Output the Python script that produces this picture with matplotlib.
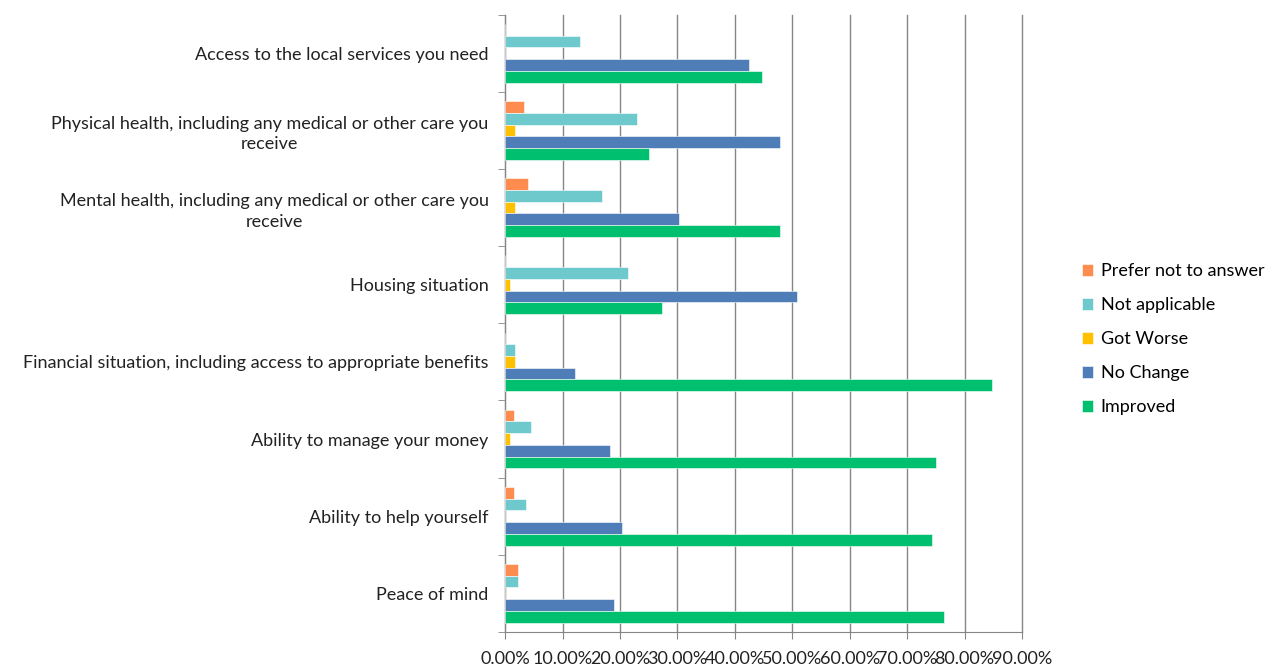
import numpy as np
import matplotlib.pyplot as plt
from matplotlib.ticker import FuncFormatter

plt.rcParams['font.family'] = ['Lato', 'DejaVu Sans']

# categories, top to bottom as shown
categories = ["Access to the local services you need",
              "Physical health, including any medical or other care you\nreceive",
              "Mental health, including any medical or other care you\nreceive",
              "Housing situation",
              "Financial situation, including access to appropriate benefits",
              "Ability to manage your money",
              "Ability to help yourself",
              "Peace of mind"]

prefer = [0.0, 0.032, 0.039, 0.0, 0.0, 0.015, 0.015, 0.022]
not_applicable = [0.130, 0.229, 0.168, 0.214, 0.017, 0.045, 0.037, 0.022]
got_worse = [0.0, 0.017, 0.017, 0.009, 0.017, 0.008, 0.0, 0.0]
no_change = [0.425, 0.478, 0.303, 0.509, 0.122, 0.182, 0.204, 0.189]
improved = [0.448, 0.251, 0.478, 0.273, 0.848, 0.750, 0.744, 0.765]

series = [("Prefer not to answer", prefer, "#FF8C4F"),
          ("Not applicable", not_applicable, "#6DC9CC"),
          ("Got Worse", got_worse, "#FFC000"),
          ("No Change", no_change, "#4F7DB7"),
          ("Improved", improved, "#00BF6F")]

fig = plt.figure(figsize=(12.79, 6.68), dpi=100)
ax = fig.add_axes([0.395, 0.054, 0.404, 0.924])

n = len(categories)
ypos = np.arange(n)  # 0 at top
bh = 0.152
for i, (name, vals, col) in enumerate(series):
    off = (i - 2) * bh
    ax.barh(ypos + off, vals, height=bh, color=col, edgecolor='white',
            linewidth=0.4, label=name, zorder=3)

ax.set_ylim(n - 0.5, -0.5)
ax.set_xlim(0, 0.9)
ax.set_xticks(np.arange(0, 0.91, 0.1))
ax.xaxis.set_major_formatter(FuncFormatter(lambda v, p: "{:.2f}%".format(v * 100)))
ax.grid(axis='x', color='#868686', linewidth=1, zorder=0)
for gl in ax.get_xgridlines():
    gl.set_clip_on(False)

ax.set_yticks(ypos)
ax.set_yticklabels(categories, multialignment='center', linespacing=1.35)
ax.set_yticks(np.arange(-0.5, n, 1), minor=True)
ax.tick_params(axis='y', which='major', length=0, pad=12, labelsize=13, colors='#222222')
ax.tick_params(axis='y', which='minor', length=5, color='#868686', direction='out')
ax.tick_params(axis='x', length=5, color='#868686', labelsize=13, pad=9, labelcolor='#222222')

for s in ['top', 'right']:
    ax.spines[s].set_visible(False)
ax.spines['left'].set_color('#868686')
ax.spines['bottom'].set_color('#868686')

fig.legend(loc='center left', bbox_to_anchor=(0.833, 0.4925), frameon=False,
           fontsize=13, handlelength=0.65, handleheight=0.65, labelspacing=1.0,
           handletextpad=0.4)

fig.savefig("out.png", dpi=100)
